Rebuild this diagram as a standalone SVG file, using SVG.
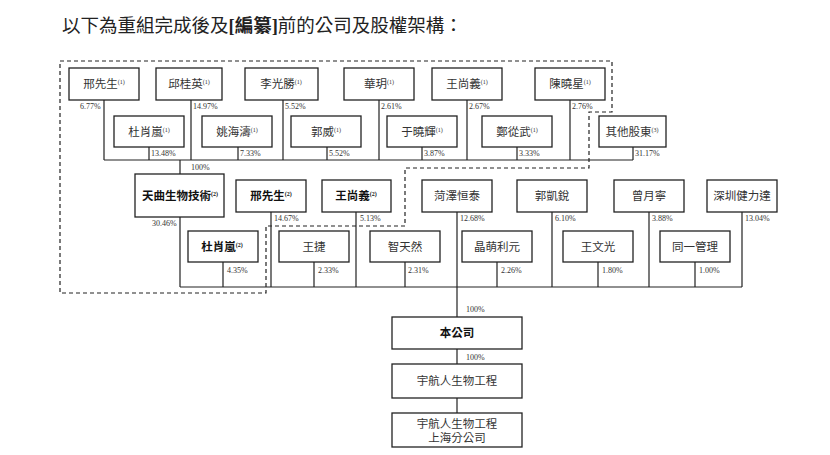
<svg xmlns="http://www.w3.org/2000/svg" width="830" height="455" viewBox="0 0 830 455">
<style>
.b{fill:#fff;stroke:#222;stroke-width:1.3}
.t{font-family:"Liberation Serif","Noto Sans CJK TC",serif;font-size:11.5px;fill:#333;text-anchor:middle}
.tb{font-weight:bold;fill:#111}
.p{font-family:"Liberation Serif",serif;font-size:8px;fill:#333}
.s{font-size:6px}
.l{stroke:#222;stroke-width:1.2;fill:none}
.d{stroke:#222;stroke-width:1.2;fill:none;stroke-dasharray:4,3}
</style>
<rect width="830" height="455" fill="#fff"/>
<text x="62" y="32" style="font-family:'Liberation Serif','Noto Sans CJK TC',serif;font-size:18.5px;fill:#222">以下為重組完成後及<tspan font-weight="bold">[編纂]</tspan>前的公司及股權架構：</text>
<g id="connectors">
<path class="l" d="M104 100V160M191 100V160M283 100V160M379 100V160M467 100V160M570 100V160M149 147V160M238 147V160M327 147V160M422 147V160M517 147V160M633 147V160M104 160H633M180 160V174"/>
<path class="l" d="M180 217V287M271 212V287M356 212V287M457 212V287M552 212V287M649 212V287M742 212V287M223 262V287M314 262V287M405 262V287M497 262V287M598 262V287M695 262V287M180 287H742M457 287V317M457 349V364M457 398V413"/>
<path class="d" d="M60 61H612V112H589V168H405V226H266V293H60Z"/>
</g>
<g class="p">
<text x="80" y="109">6.77%</text><text x="193" y="109">14.97%</text><text x="285" y="109">5.52%</text><text x="381" y="109">2.61%</text><text x="469" y="109">2.67%</text><text x="572" y="109">2.76%</text>
<text x="151" y="156">13.48%</text><text x="240" y="156">7.33%</text><text x="329" y="156">5.52%</text><text x="424" y="156">3.87%</text><text x="519" y="156">3.33%</text><text x="635" y="156">31.17%</text>
<text x="191" y="170">100%</text>
<text x="152" y="226">30.46%</text><text x="274" y="221">14.67%</text><text x="360" y="221">5.13%</text><text x="460" y="221">12.68%</text><text x="555" y="221">6.10%</text><text x="652" y="221">3.88%</text><text x="745" y="221">13.04%</text>
<text x="227" y="273">4.35%</text><text x="318" y="273">2.33%</text><text x="408" y="273">2.31%</text><text x="501" y="273">2.26%</text><text x="602" y="273">1.80%</text><text x="699" y="273">1.00%</text>
<text x="466" y="312">100%</text><text x="466" y="360">100%</text>
</g>
<g id="n1"><rect class="b" x="69" y="68" width="70" height="32"/><text class="t" x="104" y="88">邢先生<tspan class="s" dy="-4">(1)</tspan></text></g>
<g id="n2"><rect class="b" x="156" y="68" width="66" height="32"/><text class="t" x="189" y="88">邱桂英<tspan class="s" dy="-4">(1)</tspan></text></g>
<g id="n3"><rect class="b" x="245" y="68" width="73" height="32"/><text class="t" x="281" y="88">李光勝<tspan class="s" dy="-4">(1)</tspan></text></g>
<g id="n4"><rect class="b" x="344" y="68" width="70" height="32"/><text class="t" x="379" y="88">華玥<tspan class="s" dy="-4">(1)</tspan></text></g>
<g id="n5"><rect class="b" x="432" y="68" width="70" height="32"/><text class="t" x="467" y="88">王尚義<tspan class="s" dy="-4">(1)</tspan></text></g>
<g id="n6"><rect class="b" x="535" y="68" width="70" height="32"/><text class="t" x="570" y="88">陳曉星<tspan class="s" dy="-4">(1)</tspan></text></g>
<g id="n7"><rect class="b" x="114" y="116" width="70" height="31"/><text class="t" x="149" y="136">杜肖嵐<tspan class="s" dy="-4">(1)</tspan></text></g>
<g id="n8"><rect class="b" x="202" y="116" width="70" height="31"/><text class="t" x="237" y="136">姚海濤<tspan class="s" dy="-4">(1)</tspan></text></g>
<g id="n9"><rect class="b" x="291" y="116" width="70" height="31"/><text class="t" x="326" y="136">郭威<tspan class="s" dy="-4">(1)</tspan></text></g>
<g id="n10"><rect class="b" x="387" y="116" width="70" height="31"/><text class="t" x="422" y="136">于曉輝<tspan class="s" dy="-4">(1)</tspan></text></g>
<g id="n11"><rect class="b" x="482" y="116" width="70" height="31"/><text class="t" x="517" y="136">鄭從武<tspan class="s" dy="-4">(1)</tspan></text></g>
<g id="n12"><rect class="b" x="599" y="116" width="67" height="31"/><text class="t" x="632" y="136">其他股東<tspan class="s" dy="-4">(3)</tspan></text></g>
<g id="n13"><rect class="b" x="135" y="174" width="89" height="43"/><text class="t tb" x="180" y="200">天曲生物技術<tspan class="s" dy="-4">(2)</tspan></text></g>
<g id="n14"><rect class="b" x="236" y="180" width="70" height="32"/><text class="t tb" x="271" y="200">邢先生<tspan class="s" dy="-4">(2)</tspan></text></g>
<g id="n15"><rect class="b" x="322" y="180" width="69" height="32"/><text class="t tb" x="356" y="200">王尚義<tspan class="s" dy="-4">(2)</tspan></text></g>
<g id="n16"><rect class="b" x="422" y="180" width="70" height="32"/><text class="t" x="457" y="200">菏澤恒泰</text></g>
<g id="n17"><rect class="b" x="517" y="180" width="70" height="32"/><text class="t" x="552" y="200">郭凱銳</text></g>
<g id="n18"><rect class="b" x="614" y="180" width="70" height="32"/><text class="t" x="649" y="200">曾月寧</text></g>
<g id="n19"><rect class="b" x="707" y="180" width="70" height="32"/><text class="t" x="742" y="200">深圳健力達</text></g>
<g id="n20"><rect class="b" x="188" y="231" width="70" height="31"/><text class="t tb" x="222" y="251">杜肖嵐<tspan class="s" dy="-4">(2)</tspan></text></g>
<g id="n21"><rect class="b" x="279" y="231" width="70" height="31"/><text class="t" x="314" y="251">王捷</text></g>
<g id="n22"><rect class="b" x="370" y="231" width="70" height="31"/><text class="t" x="405" y="251">智天然</text></g>
<g id="n23"><rect class="b" x="462" y="231" width="70" height="31"/><text class="t" x="497" y="251">晶萌利元</text></g>
<g id="n24"><rect class="b" x="563" y="231" width="70" height="31"/><text class="t" x="598" y="251">王文光</text></g>
<g id="n25"><rect class="b" x="660" y="231" width="70" height="31"/><text class="t" x="695" y="251">同一管理</text></g>
<g id="n26"><rect class="b" x="392" y="317" width="130" height="32"/><text class="t tb" x="457" y="337">本公司</text></g>
<g id="n27"><rect class="b" x="392" y="364" width="130" height="34"/><text class="t" x="457" y="385">宇航人生物工程</text></g>
<g id="n28"><rect class="b" x="392" y="413" width="130" height="34"/><text class="t" x="457" y="428">宇航人生物工程</text><text class="t" x="457" y="442">上海分公司</text></g>
</svg>
